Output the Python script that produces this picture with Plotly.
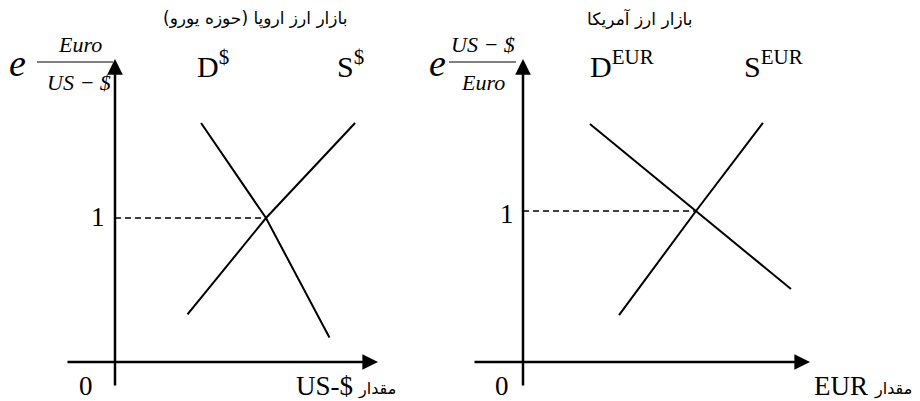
import plotly.graph_objects as go

# The page body adds an 8px margin, so the figure is drawn 8px smaller and
# every reference pixel position is shifted by OFF.
OFF = 8
W, H = 920 - OFF, 401 - OFF

# ---- data (economic units; equilibrium price = 1, equilibrium quantity = 1) ----
# Left panel: European FX market (US-$)
eu_demand_q = [0.57, 1.00, 1.42]
eu_demand_p = [1.66, 1.00, 0.17]
eu_supply_q = [0.48, 1.00, 1.59]
eu_supply_p = [0.33, 1.00, 1.66]
eu_eq = (1.0, 1.0)

# Right panel: American FX market (EUR)
us_demand_q = [0.387, 1.00, 1.549]
us_demand_p = [1.576, 1.00, 0.483]
us_supply_q = [0.555, 1.00, 1.387]
us_supply_p = [0.311, 1.00, 1.583]
us_eq = (1.0, 1.0)

serif = "Liberation Serif, Times New Roman, serif"
persian = "DejaVu Sans, Noto Sans, sans-serif"

fig = go.Figure()

line_style = dict(color="black", width=2)
dash_style = dict(color="black", width=1.5, dash="6px,4px")

fig.add_trace(go.Scatter(x=eu_demand_q, y=eu_demand_p, mode="lines", line=line_style, xaxis="x", yaxis="y"))
fig.add_trace(go.Scatter(x=eu_supply_q, y=eu_supply_p, mode="lines", line=line_style, xaxis="x", yaxis="y"))
fig.add_trace(go.Scatter(x=[0, eu_eq[0]], y=[eu_eq[1], eu_eq[1]], mode="lines", line=dash_style, xaxis="x", yaxis="y"))
fig.add_trace(go.Scatter(x=us_demand_q, y=us_demand_p, mode="lines", line=line_style, xaxis="x2", yaxis="y2"))
fig.add_trace(go.Scatter(x=us_supply_q, y=us_supply_p, mode="lines", line=line_style, xaxis="x2", yaxis="y2"))
fig.add_trace(go.Scatter(x=[0, us_eq[0]], y=[us_eq[1], us_eq[1]], mode="lines", line=dash_style, xaxis="x2", yaxis="y2"))

# ---- layout geometry (reference pixel positions) ----
SPLIT = 464  # boundary between the two panels
L_ORIG, L_SX, L_SY = (115, 362), 151.0, 144.0
R_ORIG, R_SX, R_SY = (523, 362), 173.0, 151.0

def xrange_for(x0px, x1px, orig, sx):
    return [(x0px - orig[0]) / sx, (x1px - orig[0]) / sx]

def yrange_for(orig, sy):
    return [(orig[1] - 401) / sy, (orig[1] - OFF) / sy]

annotations = []

def axis_arrow(xref, yref, x0, y0, x1, y1):
    annotations.append(dict(x=x1, y=y1, ax=x0, ay=y0, xref=xref, yref=yref,
                            axref=xref, ayref=yref, text="", showarrow=True,
                            arrowhead=2, arrowsize=1.25, arrowwidth=2.5, arrowcolor="black"))

axis_arrow("x", "y", (66 - 115) / L_SX, 0, (378 - 115) / L_SX, 0)
axis_arrow("x", "y", 0, (362 - 387) / L_SY, 0, (362 - 59) / L_SY)
axis_arrow("x2", "y2", (473 - 523) / R_SX, 0, (810 - 523) / R_SX, 0)
axis_arrow("x2", "y2", 0, (362 - 387) / R_SY, 0, (362 - 59) / R_SY)

def px(x, y, text, size, family=serif, xanchor="center", italic=False):
    t = f"<i>{text}</i>" if italic else text
    annotations.append(dict(x=(x - OFF) / W, y=1 - (y - OFF) / H, xref="paper", yref="paper", text=t,
                            showarrow=False, xanchor=xanchor, yanchor="middle",
                            font=dict(family=family, size=size, color="black")))

# titles
px(255, 19, "بازار ارز اروپا (حوزه یورو)", 17, persian)
px(640, 19, "بازار ارز آمریکا", 17, persian)

# left labels
px(17, 63, "e", 38, italic=True)
px(80, 44, "Euro", 22, italic=True)
px(79, 82, "US − $", 22, italic=True)
px(213, 64, "D<sup>$</sup>", 30)
px(350, 64, "S<sup>$</sup>", 30)
px(98, 217, "1", 27)
px(86, 386, "0", 27)
px(324, 386, "US-$", 27)
px(377, 389, "مقدار", 16, persian)

# right labels
px(437, 63, "e", 38, italic=True)
px(483, 44, "US − $", 22, italic=True)
px(483, 82, "Euro", 22, italic=True)
px(622, 64, "D<sup>EUR</sup>", 30)
px(773, 64, "S<sup>EUR</sup>", 30)
px(507, 214, "1", 27)
px(502, 386, "0", 27)
px(841, 386, "EUR", 27)
px(893, 389, "مقدار", 16, persian)

def hline(x0, x1, y):
    return dict(type="line", xref="paper", yref="paper",
                x0=(x0 - OFF) / W, x1=(x1 - OFF) / W,
                y0=1 - (y - OFF) / H, y1=1 - (y - OFF) / H,
                line=dict(color="black", width=1))

shapes = [hline(37, 113, 62), hline(449, 516, 62)]

hidden = dict(visible=False, fixedrange=True)
fig.update_layout(
    width=W, height=H,
    margin=dict(l=0, r=0, t=0, b=0),
    paper_bgcolor="white", plot_bgcolor="white",
    showlegend=False,
    xaxis=dict(domain=[0, (SPLIT - OFF) / W], range=xrange_for(OFF, SPLIT, L_ORIG, L_SX), **hidden),
    yaxis=dict(domain=[0, 1], range=yrange_for(L_ORIG, L_SY), **hidden),
    xaxis2=dict(domain=[(SPLIT - OFF) / W, 1], range=xrange_for(SPLIT, 920, R_ORIG, R_SX), anchor="y2", **hidden),
    yaxis2=dict(domain=[0, 1], range=yrange_for(R_ORIG, R_SY), anchor="x2", **hidden),
    annotations=annotations,
    shapes=shapes,
)

fig.write_html("out.html")
